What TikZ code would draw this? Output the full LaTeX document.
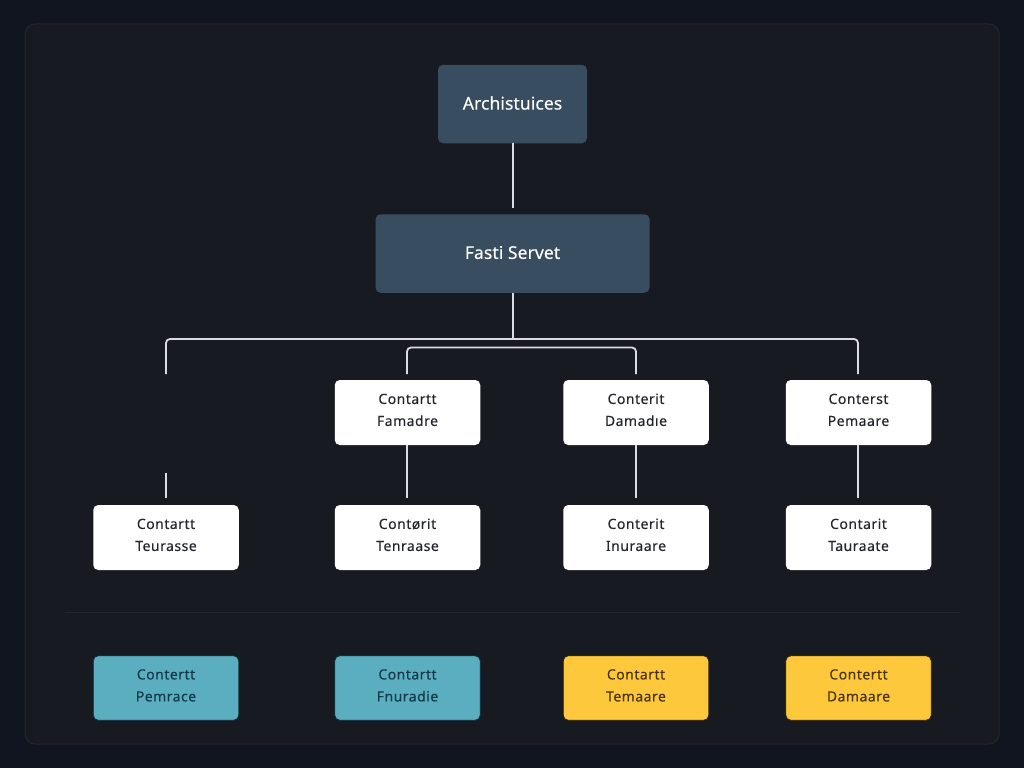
\documentclass[tikz,border=0pt]{standalone}
\usepackage{fontspec}
\setmainfont[LetterSpace=3.5,FakeBold=0.2]{Noto Sans}
\newfontfamily\headfont[LetterSpace=0.5,FakeBold=0.3]{Noto Sans}
\definecolor{bgc}{HTML}{10151F}
\definecolor{panelc}{HTML}{171A20}
\definecolor{panelb}{HTML}{22262D}
\definecolor{slate}{HTML}{384D5F}
\definecolor{linec}{HTML}{DADCE0}
\definecolor{tealc}{HTML}{5AAEBF}
\definecolor{tealt}{HTML}{123A4A}
\definecolor{tealo}{HTML}{0E2C38}
\definecolor{yelc}{HTML}{FDC83B}
\definecolor{yelt}{HTML}{4A3410}
\definecolor{yelo}{HTML}{2E2208}
\definecolor{inkc}{HTML}{23262C}
\newcommand{\twolines}[2]{\raisebox{2pt}[\height][\depth]{\begin{tabular}{@{}c@{}}#1\\#2\end{tabular}}}
\newcommand{\headline}[1]{\raisebox{1pt}[\height][\depth]{#1}}
\tikzset{
  x=1pt,y=-1pt,
  basebox/.style={rectangle,rounded corners=5pt,inner sep=0pt,align=center,font=\fontsize{14}{22}\selectfont},
  topbox/.style={basebox,fill=slate,text=white,minimum height=78.5pt,font=\headfont\fontsize{17.5}{22}\selectfont},
  whitebox/.style={basebox,fill=white,text=inkc,minimum width=145.5pt,minimum height=65pt},
  tealbox/.style={basebox,fill=tealc,draw=tealo,line width=0.8pt,text=tealt,minimum width=145.5pt,minimum height=64.5pt},
  yelbox/.style={basebox,fill=yelc,draw=yelo,line width=0.8pt,text=yelt,minimum width=145.5pt,minimum height=64.5pt},
  conn/.style={draw=linec,line width=1.8pt},
  bus/.style={conn,rounded corners=4pt},
}
\begin{document}
\begin{tikzpicture}
\useasboundingbox (0,0) rectangle (1024,768);
\fill[bgc] (0,0) rectangle (1024,768);
\draw[panelb,fill=panelc,line width=1pt,rounded corners=10pt] (25,24) rectangle (999,744);
\draw[panelb,line width=0.8pt] (65,612) -- (960,612);

\node[topbox,minimum width=149pt] (arch) at (512.5,104) {\headline{Archistuices}};
\node[topbox,minimum width=274pt] (fast) at (512.5,253.5) {\headline{Fasti Servet}};

\node[whitebox] (f1) at (407.5,412.5) {\twolines{Contartt}{Famadre}};
\node[whitebox] (f2) at (636,412.5) {\twolines{Conterit}{Damadıe}};
\node[whitebox] (f3) at (858.5,412.5) {\twolines{Conterst}{Pemaare}};

\node[whitebox] (t0) at (166,537.5) {\twolines{Contartt}{Teurasse}};
\node[whitebox] (t1) at (407.5,537.5) {\twolines{Contørit}{Tenraase}};
\node[whitebox] (t2) at (636,537.5) {\twolines{Conterit}{Inuraare}};
\node[whitebox] (t3) at (858.5,537.5) {\twolines{Contarit}{Tauraate}};

\node[tealbox] (b0) at (166,688) {\twolines{Contertt}{Pemrace}};
\node[tealbox] (b1) at (407.5,688) {\twolines{Contartt}{Fnuradie}};
\node[yelbox] (b2) at (636,688) {\twolines{Contartt}{Temaare}};
\node[yelbox] (b3) at (858.5,688) {\twolines{Contertt}{Damaare}};

\coordinate (archend) at (513,208);
\coordinate (busjoin) at (513,339);
\coordinate (stub0) at (166,374);
\coordinate (stubr) at (858,374);
\coordinate (stub0b) at (166,473);
\coordinate (t0top) at (166,498);
\coordinate (f1top) at (407,374);
\coordinate (f2top) at (636,374);
\coordinate (inner) at (513,347.5);
\coordinate (t1top) at (407,498);
\coordinate (t2top) at (636,498);
\coordinate (t3top) at (858,498);

\draw[conn] (arch.south -| archend) -- (archend);
\draw[conn] (fast.south -| busjoin) -- (busjoin);
\draw[bus] (stub0) -- (stub0 |- busjoin) -- (stubr |- busjoin) -- (stubr);
\draw[bus] (f1top) -- (f1top |- inner) -- (f2top |- inner) -- (f2top);
\draw[conn] (stub0b) -- (t0top);
\draw[conn] (f1.south -| t1top) -- (t1top);
\draw[conn] (f2.south -| t2top) -- (t2top);
\draw[conn] (f3.south -| t3top) -- (t3top);
\end{tikzpicture}
\end{document}
